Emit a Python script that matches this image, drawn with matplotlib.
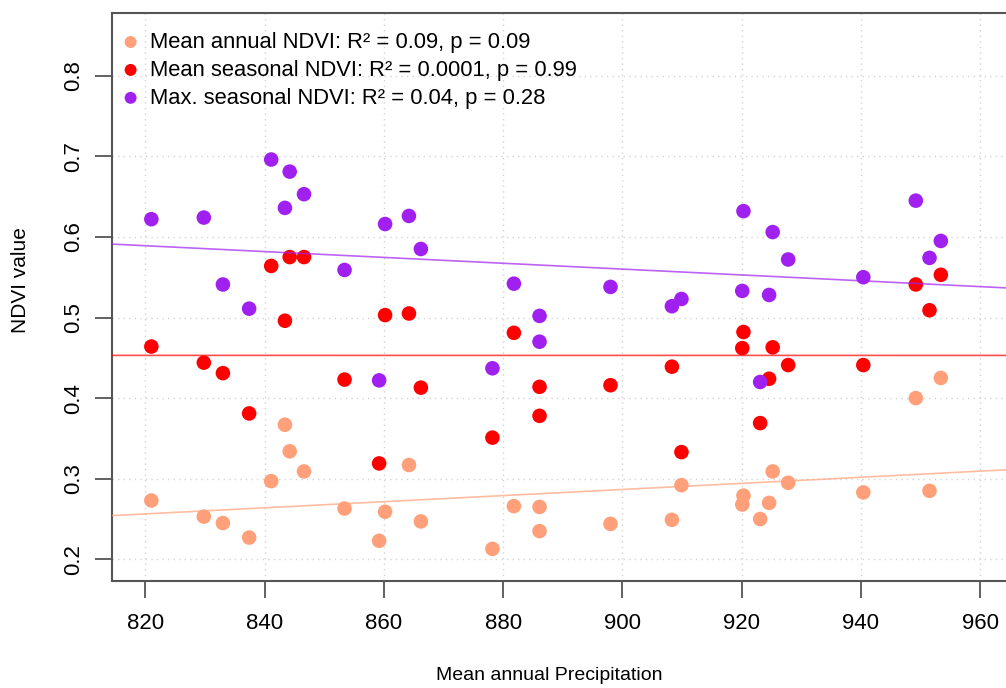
import numpy as np
import matplotlib
matplotlib.use('Agg')
import matplotlib.pyplot as plt

plt.rcParams['font.family'] = ['Liberation Sans', 'DejaVu Sans']

# mean annual precipitation per site
precip = [821.0, 829.8, 833.0, 837.4, 841.1, 843.4, 844.2, 846.6, 853.4, 859.2,
          860.2, 864.2, 866.2, 878.2, 881.8, 886.1, 886.1, 898.0, 908.3, 909.9,
          920.1, 920.3, 923.1, 924.6, 925.2, 927.8, 940.4, 949.2, 951.5, 953.4]

# NDVI values per site
mean_annual = [0.273, 0.253, 0.245, 0.227, 0.297, 0.367, 0.334, 0.309, 0.263, 0.223,
               0.259, 0.317, 0.247, 0.213, 0.266, 0.265, 0.235, 0.244, 0.249, 0.292,
               0.268, 0.279, 0.250, 0.270, 0.309, 0.295, 0.283, 0.400, 0.285, 0.425]
mean_seasonal = [0.464, 0.444, 0.431, 0.381, 0.564, 0.496, 0.575, 0.575, 0.423, 0.319,
                 0.503, 0.505, 0.413, 0.351, 0.481, 0.414, 0.378, 0.416, 0.439, 0.333,
                 0.462, 0.482, 0.369, 0.424, 0.463, 0.441, 0.441, 0.541, 0.509, 0.553]
max_seasonal = [0.622, 0.624, 0.541, 0.511, 0.696, 0.636, 0.681, 0.653, 0.559, 0.422,
                0.616, 0.626, 0.585, 0.437, 0.542, 0.502, 0.470, 0.538, 0.514, 0.523,
                0.533, 0.632, 0.420, 0.528, 0.606, 0.572, 0.550, 0.645, 0.574, 0.595]

labels = ['Mean annual NDVI: R\u00b2 = 0.09, p = 0.09',
          'Mean seasonal NDVI: R\u00b2 = 0.0001, p = 0.99',
          'Max. seasonal NDVI: R\u00b2 = 0.04, p = 0.28']
colours = ['#FFA07A', '#FF0000', '#A020F0']
series = [mean_annual, mean_seasonal, max_seasonal]

x_ticks = [820, 840, 860, 880, 900, 920, 940, 960]
y_ticks = [0.2, 0.3, 0.4, 0.5, 0.6, 0.7, 0.8]

fig = plt.figure(figsize=(10.06, 6.88), dpi=100)
ax = fig.add_axes([112 / 1006, 107 / 688, 898 / 1006, 568 / 688])

ax.set_xlim(814.4, 965.0)
ax.set_ylim(0.1731, 0.8778)

# grid like R's grid()
for xv in x_ticks:
    ax.axvline(xv, color='#D3D3D3', lw=1, ls=(0, (1, 3)), zorder=0)
for yv in y_ticks:
    ax.axhline(yv, color='#D3D3D3', lw=1, ls=(0, (1, 3)), zorder=0)

for vals, col, lab in zip(series, colours, labels):
    ax.scatter(precip, vals, s=110, color=col, edgecolors='none', label=lab, zorder=3)

# fitted lines (abline of lm)
for vals, col in zip(series, colours):
    slope, icpt = np.polyfit(precip, vals, 1)
    ax.axline((820, icpt + slope * 820), slope=slope, color=col, lw=1.2, alpha=0.7, zorder=4)

ax.set_xticks(x_ticks)
ax.set_yticks(y_ticks)
ax.set_yticklabels([str(v) for v in y_ticks], rotation=90, va='center')
ax.tick_params(axis='both', length=12, width=1.3, color='#555555', labelsize=16)
ax.tick_params(axis='x', pad=11)
ax.tick_params(axis='y', pad=8)
for sp in ax.spines.values():
    sp.set_color('#555555')
    sp.set_linewidth(1.5)

fig.text(549 / 1006, 1 - 676 / 688, 'Mean annual Precipitation', ha='center', va='center', fontsize=14)
fig.text(21 / 1006, 1 - 280 / 688, 'NDVI value', ha='center', va='center', rotation=90, fontsize=15)

ax.legend(loc='upper left', bbox_to_anchor=(-0.0086, 0.994), frameon=False, fontsize=15.8,
          handletextpad=0.4, labelspacing=0.315, borderaxespad=0.3, markerscale=0.82,
          handlelength=1.0)

fig.savefig('out.png', dpi=100)
